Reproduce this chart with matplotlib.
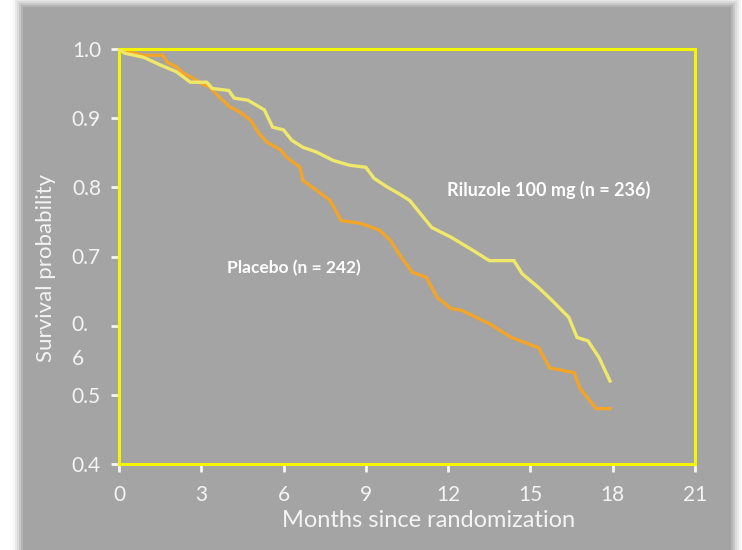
import matplotlib
matplotlib.use("Agg")
import matplotlib.pyplot as plt
from matplotlib.patches import Rectangle
from matplotlib.transforms import ScaledTranslation

# Kaplan-Meier curve points (months, survival probability)
riluzole_months = [0, 0.2, 0.9, 1.5, 2.1, 2.6, 3.2, 3.4, 4.0, 4.2, 4.7, 5.3, 5.6, 6.0,
                   6.3, 6.7, 7.2, 7.8, 8.4, 9.0, 9.3, 9.8, 10.2, 10.6, 11.4, 12.1,
                   12.9, 13.5, 14.4, 14.7, 15.3, 15.8, 16.4, 16.7, 17.1, 17.5, 17.9]
riluzole_surv = [1.0, 0.994, 0.988, 0.977, 0.967, 0.952, 0.952, 0.943, 0.940, 0.929,
                 0.926, 0.912, 0.887, 0.883, 0.868, 0.858, 0.851, 0.839, 0.832, 0.829,
                 0.813, 0.800, 0.791, 0.781, 0.742, 0.728, 0.709, 0.694, 0.694, 0.675,
                 0.655, 0.636, 0.612, 0.583, 0.578, 0.554, 0.520]

placebo_months = [0, 0.9, 1.6, 1.75, 2.1, 2.35, 2.7, 2.95, 3.3, 3.7, 4.05, 4.4, 4.8,
                  5.1, 5.4, 5.9, 6.1, 6.6, 6.7, 7.2, 7.7, 8.1, 8.8, 9.5, 9.9, 10.2,
                  10.7, 11.2, 11.6, 12.1, 12.5, 13.5, 14.3, 15.3, 15.7, 16.6, 16.8,
                  17.4, 17.9]
placebo_surv = [1.0, 0.991, 0.991, 0.981, 0.974, 0.965, 0.958, 0.951, 0.945, 0.929,
                0.916, 0.909, 0.897, 0.878, 0.865, 0.854, 0.844, 0.829, 0.810, 0.796,
                0.781, 0.752, 0.748, 0.738, 0.723, 0.704, 0.677, 0.670, 0.641, 0.625,
                0.622, 0.603, 0.583, 0.568, 0.539, 0.532, 0.510, 0.480, 0.480]

x_ticks = [0, 3, 6, 9, 12, 15, 18, 21]
y_ticks = [0.4, 0.5, 0.6, 0.7, 0.8, 0.9, 1.0]
y_tick_labels = ["0.4", "0.5", "0.\n6", "0.7", "0.8", "0.9", "1.0"]

riluzole_label = "Riluzole 100 mg (n = 236)"
placebo_label = "Placebo (n = 242)"

FONT = ["Lato", "DejaVu Sans"]
plt.rcParams['font.family'] = FONT

fig = plt.figure(figsize=(7.42, 5.5), dpi=100)
fig.patch.set_facecolor("white")

W, H = 742, 550
# soft shadow behind panel
for i, a in enumerate([0.04, 0.05, 0.06, 0.08, 0.10]):
    d = 10 - 2 * i
    fig.patches.append(Rectangle(((23 - d) / W, 1 - (550 + d) / H), (708 + 2 * d) / W,
                                 (543 + 2 * d) / H, transform=fig.transFigure,
                                 facecolor="black", alpha=a, edgecolor="none", zorder=0))
fig.patches.append(Rectangle((23 / W, 0), 708 / W, 1 - 7 / H, transform=fig.transFigure,
                             facecolor="#a4a4a4", edgecolor="none", zorder=1))

ax = fig.add_axes([119 / W, 1 - 464 / H, (695 - 119) / W, (464 - 49) / H])
ax.set_facecolor("#a4a4a4")
ax.set_zorder(2)

ax.plot(riluzole_months, riluzole_surv, color="#f0e86a", lw=2.4, zorder=3,
        solid_joinstyle="miter")
ax.plot(placebo_months, placebo_surv, color="#f3a52a", lw=2.4, zorder=2.5,
        solid_joinstyle="miter")

ax.set_xlim(0, 21)
ax.set_ylim(0.4, 1.0)
ax.set_xticks(x_ticks)
ax.set_xticklabels([str(t) for t in x_ticks])
ax.set_yticks(y_ticks)
ax.set_yticklabels(y_tick_labels)

for s in ax.spines.values():
    s.set_color("#f5f500")
    s.set_linewidth(2.2)

ax.tick_params(axis="both", colors="#f4f4f4", labelcolor="#f4f4f4", length=6, width=2,
               direction="out", labelsize=15)
ax.tick_params(axis="x", pad=9)
ax.tick_params(axis="y", pad=7)

for lbl in ax.get_yticklabels():
    if "\n" in lbl.get_text():
        lbl.set_verticalalignment("top")
        lbl.set_linespacing(1.9)
        lbl.set_horizontalalignment("left")
        lbl.set_transform(lbl.get_transform() +
                          ScaledTranslation(-21 / 72, 8 / 72, fig.dpi_scale_trans))

ax.set_xlabel("Months since randomization", color="#f4f4f4", fontsize=17)
ax.xaxis.set_label_coords(0.538, -0.112)
ax.set_ylabel("Survival probability", color="#f4f4f4", fontsize=16)
ax.yaxis.set_label_coords(-0.11, 0.472)

ax.text(11.95, 0.796, riluzole_label, color="white", fontsize=13, fontweight="bold",
        va="center", ha="left")
ax.text(3.94, 0.683, placebo_label, color="white", fontsize=12.5, fontweight="bold",
        va="center", ha="left")

fig.savefig("out.png", dpi=100, facecolor=fig.get_facecolor())
